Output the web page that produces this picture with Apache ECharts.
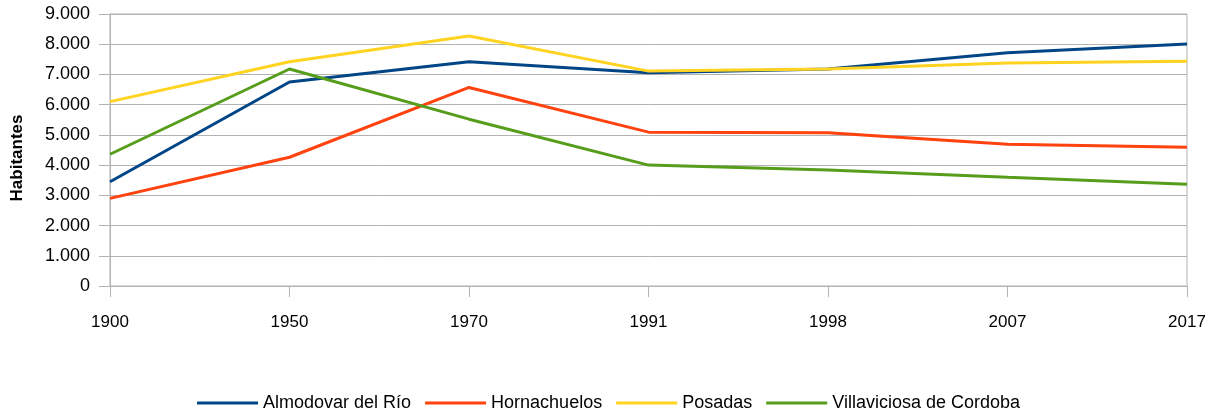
<!DOCTYPE html>
<html>
<head>
<meta charset="utf-8">
<title>Habitantes</title>
<script type="text/javascript" src="https://cdn.jsdelivr.net/npm/echarts@6/dist/echarts.min.js"></script>
</head>
<body style="margin:0">
<div id="container" style="width:1217px;height:412px;"></div>
<script type="text/javascript">
var years = ['1900', '1950', '1970', '1991', '1998', '2007', '2017'];
var almodovar = [3450, 6750, 7420, 7060, 7180, 7720, 8010];
var hornachuelos = [2900, 4260, 6570, 5090, 5070, 4690, 4590];
var posadas = [6100, 7420, 8270, 7110, 7180, 7380, 7440];
var villaviciosa = [4360, 7180, 5520, 4000, 3840, 3600, 3370];
var names = ['Almodovar del Río', 'Hornachuelos', 'Posadas', 'Villaviciosa de Cordoba'];
var colors = ['#004586', '#ff420e', '#ffd320', '#579d1c'];

var dom = document.getElementById('container');
var myChart = echarts.init(dom);

function miles(v) {
	return String(v).replace(/\B(?=(\d{3})+(?!\d))/g, '.');
}

function serie(name, data, color) {
	return {
		name: name,
		type: 'line',
		data: data,
		showSymbol: false,
		symbol: 'none',
		lineStyle: { width: 3, color: color },
		itemStyle: { color: color }
	};
}

var option = {
	animation: false,
	color: colors,
	textStyle: { fontFamily: 'Liberation Sans' },
	grid: {
		left: 110, right: 30, top: 14, bottom: 126,
		outerBoundsMode: 'none',
		containLabel: false,
		show: true, borderColor: '#b3b3b3', borderWidth: 1
	},
	legend: {
		top: 389,
		left: 'center',
		itemWidth: 61,
		itemHeight: 3,
		itemGap: 14,
		icon: 'rect',
		textStyle: { fontFamily: 'Liberation Sans', fontSize: 18, color: '#000' },
		data: names
	},
	xAxis: {
		type: 'category',
		data: years,
		boundaryGap: false,
		axisLine: { lineStyle: { color: '#b3b3b3' } },
		axisTick: { length: 11, lineStyle: { color: '#b3b3b3' } },
		axisLabel: { color: '#000', fontSize: 17, margin: 28 },
		splitLine: { show: false }
	},
	yAxis: {
		type: 'value',
		name: 'Habitantes',
		nameLocation: 'middle',
		nameGap: 84,
		nameTextStyle: { fontWeight: 'bold', fontSize: 17, color: '#000', padding: [0, 16, 0, 0] },
		min: 0,
		max: 9000,
		interval: 1000,
		axisLine: { show: true, lineStyle: { color: '#b3b3b3' } },
		axisTick: { show: true, length: 11, lineStyle: { color: '#b3b3b3' } },
		axisLabel: { color: '#000', fontSize: 18, margin: 20, formatter: miles },
		splitLine: { lineStyle: { color: '#b3b3b3' } }
	},
	series: [
		serie(names[0], almodovar, colors[0]),
		serie(names[1], hornachuelos, colors[1]),
		serie(names[2], posadas, colors[2]),
		serie(names[3], villaviciosa, colors[3])
	]
};
myChart.setOption(option, true);
</script>
</body>
</html>
